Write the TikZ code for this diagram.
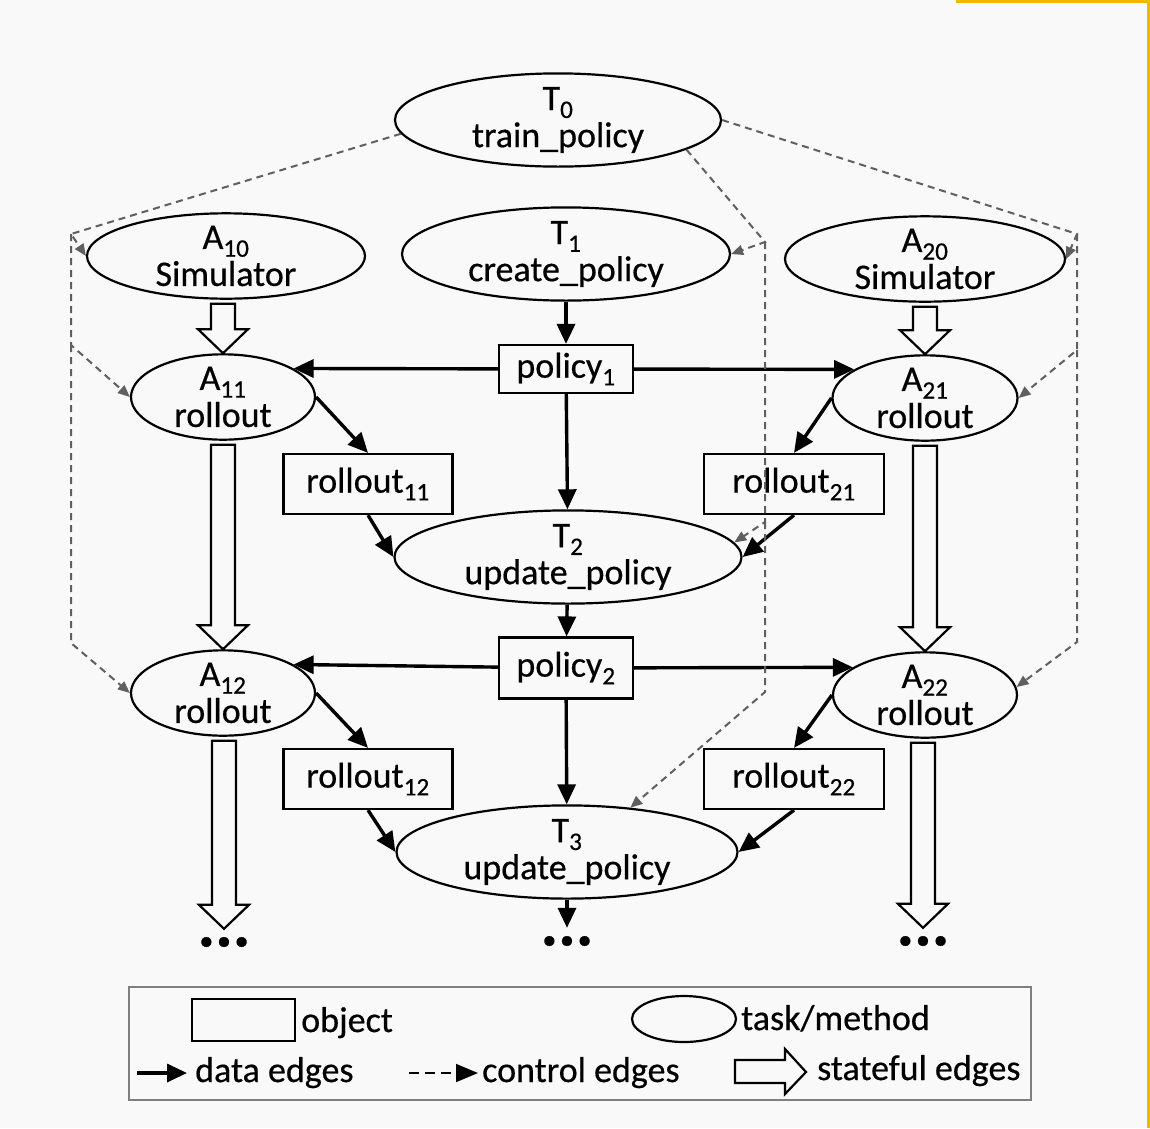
\documentclass[tikz,border=0pt]{standalone}
\usepackage{fontspec}
\setmainfont{Carlito}[FakeBold=0.5]
\usetikzlibrary{arrows.meta,calc,shapes.geometric}
\definecolor{bgcol}{HTML}{F9F9F9}
\definecolor{ctrlgray}{HTML}{5F5F5F}
\definecolor{framegray}{HTML}{7F7F7F}
\definecolor{goldbar}{HTML}{F2B705}
\tikzset{
  task/.style={ellipse, draw, line width=2.2pt, inner sep=0pt, align=center},
  object/.style={rectangle, draw, line width=2.2pt, inner sep=0pt},
  data/.style={line width=3.4pt, -{Triangle[length=20pt,width=18pt]}},
  ctrl/.style={ctrlgray, line width=2pt, dash pattern=on 7pt off 5pt,
    -{Triangle[length=12pt,width=10pt]}},
  stateful/.style={line width=2.2pt, line join=miter},
  more/.style={font=\fontsize{66}{66}\selectfont\bfseries, inner sep=0pt,
    minimum height=26pt},
  legtext/.style={anchor=base west, inner sep=0pt}
}
% hollow arrow between two nodes, straight down
\newcommand{\stedge}[2]{%
  \draw[stateful] let \p1=(#1.south), \p2=(#2.north) in
    (\x2-12pt,\y1-4pt) -- (\x2-12pt,\y2+24pt) -- (\x2-25pt,\y2+24pt)
    -- (\x2,\y2) -- (\x2+25pt,\y2+24pt) -- (\x2+12pt,\y2+24pt)
    -- (\x2+12pt,\y1-4pt) -- cycle;}
\begin{document}
\begin{tikzpicture}[x=1pt, y=-1pt, font=\fontsize{36}{37}\selectfont]
  \fill[bgcol] (0,0) rectangle (1150,1128);
  \fill[goldbar] (956,0) rectangle (1150,3);
  \fill[goldbar] (1147,0) rectangle (1150,1128);

  % tasks and objects
  \node[task, minimum width=326pt, minimum height=91pt] (T0) at (558,120) {T\textsubscript{0}\\train\_policy};
  \node[task, minimum width=328pt, minimum height=90pt] (T1) at (566,254) {T\textsubscript{1}\\create\_policy};
  \node[task, minimum width=278pt, minimum height=74pt] (A10) at (226,256) {A\textsubscript{10}\\Simulator};
  \node[task, minimum width=280pt, minimum height=74pt] (A20) at (925,259) {A\textsubscript{20}\\Simulator};
  \node[object, minimum width=134pt, minimum height=48pt] (policy1) at (566,369) {policy\textsubscript{1}};
  \node[task, minimum width=184pt, minimum height=75pt] (A11) at (223,397) {A\textsubscript{11}\\rollout};
  \node[task, minimum width=185pt, minimum height=76pt] (A21) at (925,398) {A\textsubscript{21}\\rollout};
  \node[object, minimum width=169pt, minimum height=60pt] (rollout11) at (368,484) {rollout\textsubscript{11}};
  \node[object, minimum width=180pt, minimum height=60pt] (rollout21) at (794,484) {rollout\textsubscript{21}};
  \node[task, minimum width=347pt, minimum height=85pt] (T2) at (568,557) {T\textsubscript{2}\\update\_policy};
  \node[object, minimum width=134pt, minimum height=61pt] (policy2) at (566,668) {policy\textsubscript{2}};
  \node[task, minimum width=184pt, minimum height=76pt] (A12) at (223,693) {A\textsubscript{12}\\rollout};
  \node[task, minimum width=184pt, minimum height=73pt] (A22) at (925,695) {A\textsubscript{22}\\rollout};
  \node[object, minimum width=169pt, minimum height=60pt] (rollout12) at (368,779) {rollout\textsubscript{12}};
  \node[object, minimum width=180pt, minimum height=60pt] (rollout22) at (794,779) {rollout\textsubscript{22}};
  \node[task, minimum width=341pt, minimum height=81pt] (T3) at (567,852) {T\textsubscript{3}\\update\_policy};
  \node[more] (d1) at (224,942) {...};
  \node[more] (d2) at (567,941) {...};
  \node[more] (d3) at (923,941) {...};

  % data edges
  \draw[data] (T1) -- (policy1);
  \draw[data] (policy1) -- (A11.22);
  \draw[data] (policy1) -- (A21.158);
  \draw[data] (A11.east) -- (rollout11.north);
  \draw[data] (A21.west) -- (rollout21.north);
  \draw[data] (policy1) -- (T2);
  \draw[data] (rollout11.south) -- (T2.west);
  \draw[data] (rollout21.south) -- (T2.east);
  \draw[data] (T2) -- (policy2);
  \draw[data] (policy2) -- (A12.22);
  \draw[data] (policy2) -- (A22.159);
  \draw[data] (A12.east) -- (rollout12.north);
  \draw[data] (A22.west) -- (rollout22.north);
  \draw[data] (policy2) -- (T3);
  \draw[data] (rollout12.south) -- (T3.west);
  \draw[data] (rollout22.south) -- (T3.east);
  \draw[data] (T3) -- (d2);

  % stateful edges
  \stedge{A10}{A11}
  \stedge{A11}{A12}
  \stedge{A12}{d1}
  \stedge{A20}{A21}
  \stedge{A21}{A22}
  \stedge{A22}{d3}

  % control edges
  \coordinate (cL0) at (71,234);
  \coordinate (cL1) at (71,345);
  \coordinate (cL2) at (71,643);
  \coordinate (cR0) at (1077,234);
  \coordinate (cR1) at (1077,350);
  \coordinate (cR2) at (1077,642);
  \coordinate (cM0) at (765,242);
  \coordinate (cM1) at (765,522);
  \coordinate (cM2) at (765,692);
  \draw[ctrl] (T0.185) -- (cL0) -- (A10.west);
  \draw[ctrl] (cL0) -- (cL1) -- (A11.west);
  \draw[ctrl] (cL1) -- (cL2) -- (A12.west);
  \draw[ctrl] (T0.east) -- (cR0) -- (A20.east);
  \draw[ctrl] (cR0) -- (cR1) -- (A21.east);
  \draw[ctrl] (cR1) -- (cR2) -- (A22.5);
  \draw[ctrl] (T0.-13) -- (cM0) -- (T1.east);
  \draw[ctrl] (cM0) -- (cM1) -- (T2.5);
  \draw[ctrl] (cM1) -- (cM2) -- (T3.35);

  % legend
  \draw[framegray, line width=2pt] (129,987) rectangle (1031,1100);
  \node[object, minimum width=103pt, minimum height=42pt] (legobj) at (243.5,1020) {};
  \node[legtext] (legobjtext) at (301,1032) {object};
  \node[task, minimum width=104pt, minimum height=46pt] (legtask) at (684,1019) {};
  \node[legtext] (legtasktext) at (741,1030) {task/method};
  \coordinate (ld0) at (137,1073);
  \coordinate (ld1) at (187,1073);
  \draw[line width=3.4pt, -{Triangle[length=20pt,width=18pt]}] (ld0) -- (ld1);
  \node[legtext] (legdatatext) at (195,1082) {data edges};
  \coordinate (lc0) at (409,1073);
  \coordinate (lc1) at (478,1073);
  \draw[line width=1.8pt, dash pattern=on 10pt off 6pt, -{Triangle[length=22pt,width=18pt]}] (lc0) -- (lc1);
  \node[legtext] (legctrltext) at (482,1082) {control edges};
  \draw[stateful] (735,1060) -- (785,1060) -- (785,1049) -- (806,1072)
    -- (785,1094) -- (785,1083) -- (735,1083) -- cycle;
  \node[legtext] (legstatetext) at (817,1080) {stateful edges};
\end{tikzpicture}
\end{document}
